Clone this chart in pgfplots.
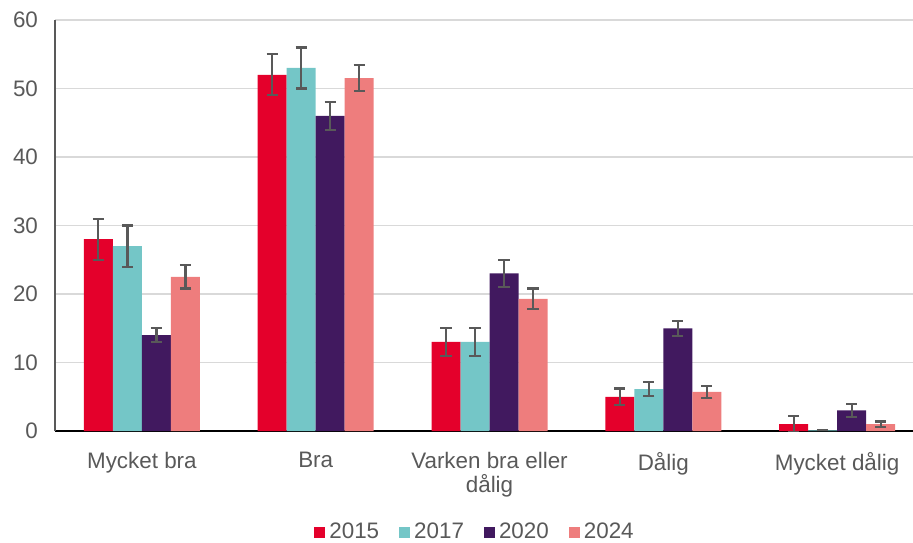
\documentclass[border=0pt]{standalone}
\usepackage{fontspec}
\setmainfont{Liberation Sans}
\usepackage{pgfplots}
\pgfplotsset{compat=1.18}
\usepackage{pgfplotstable}
\definecolor{c15}{HTML}{E4002B}
\definecolor{c17}{HTML}{74C6C7}
\definecolor{c20}{HTML}{41195F}
\definecolor{c24}{HTML}{EE7D7D}
\definecolor{txt}{HTML}{595959}
\definecolor{grd}{HTML}{D9D9D9}
\pgfplotstableread{
x y e
0 28 3
1 52 3
2 13 2
3 5 1.2
4 1 1.2
}\tA
\pgfplotstableread{
x y e
0 27 3
1 53 3
2 13 2
3 6.1 1
4 0.1 0
}\tB
\pgfplotstableread{
x y e
0 14 1
1 46 2
2 23 2
3 15 1.1
4 3 1
}\tC
\pgfplotstableread{
x y e
0 22.5 1.7
1 51.5 1.9
2 19.3 1.5
3 5.7 0.9
4 1 0.4
}\tD
\begin{document}
\begin{tikzpicture}
\useasboundingbox (-27.5pt,-55.5pt) rectangle (429pt,215.5pt);
\begin{axis}[
  scale only axis, width=434.5pt, height=205.5pt,
  at={(0,0)}, anchor=south west,
  ybar=0pt, bar width=14.5pt,
  xmin=-0.5, xmax=4.5, ymin=0, ymax=60,
  xtick={0,1,2,3,4},
  xticklabels={Mycket bra, Bra, {Varken bra eller\\dålig}, Dålig, Mycket dålig},
  xticklabel style={align=center, text=txt, font=\fontsize{11.2}{12}\selectfont, yshift=-7pt},
  ytick={0,10,...,60},
  yticklabel style={text=txt, font=\fontsize{11.2}{12}\selectfont, xshift=-5pt},
  /pgf/number format/assume math mode=true,
  major tick length=0pt,
  ymajorgrids, grid style={grd, line width=0.8pt},
  axis x line*=bottom, axis y line*=left,
  x axis line style={black, line width=0.8pt},
  y axis line style={txt, line width=0.8pt},
  error bars/error bar style={txt, line width=1.1pt},
  error bars/error mark options={rotate=90, txt, mark size=2.8pt, line width=1.1pt},
  legend style={at={(0.4845,-0.246)}, anchor=center, draw=none, legend columns=4,
    font=\fontsize{11.2}{12}\selectfont, text=txt,
    /tikz/every even column/.append style={column sep=8pt}},
  legend image code/.code={\fill[#1] (0pt,-2.75pt) rectangle (5.5pt,2.75pt);},
]
\addplot[fill=c15, draw=none, error bars/.cd, y dir=both, y explicit] table[x=x, y=y, y error=e]{\tA};
\addplot[fill=c17, draw=none, error bars/.cd, y dir=both, y explicit] table[x=x, y=y, y error=e]{\tB};
\addplot[fill=c20, draw=none, error bars/.cd, y dir=both, y explicit] table[x=x, y=y, y error=e]{\tC};
\addplot[fill=c24, draw=none, error bars/.cd, y dir=both, y explicit] table[x=x, y=y, y error=e]{\tD};
\legend{2015, 2017, 2020, 2024}
\end{axis}
\end{tikzpicture}
\end{document}
